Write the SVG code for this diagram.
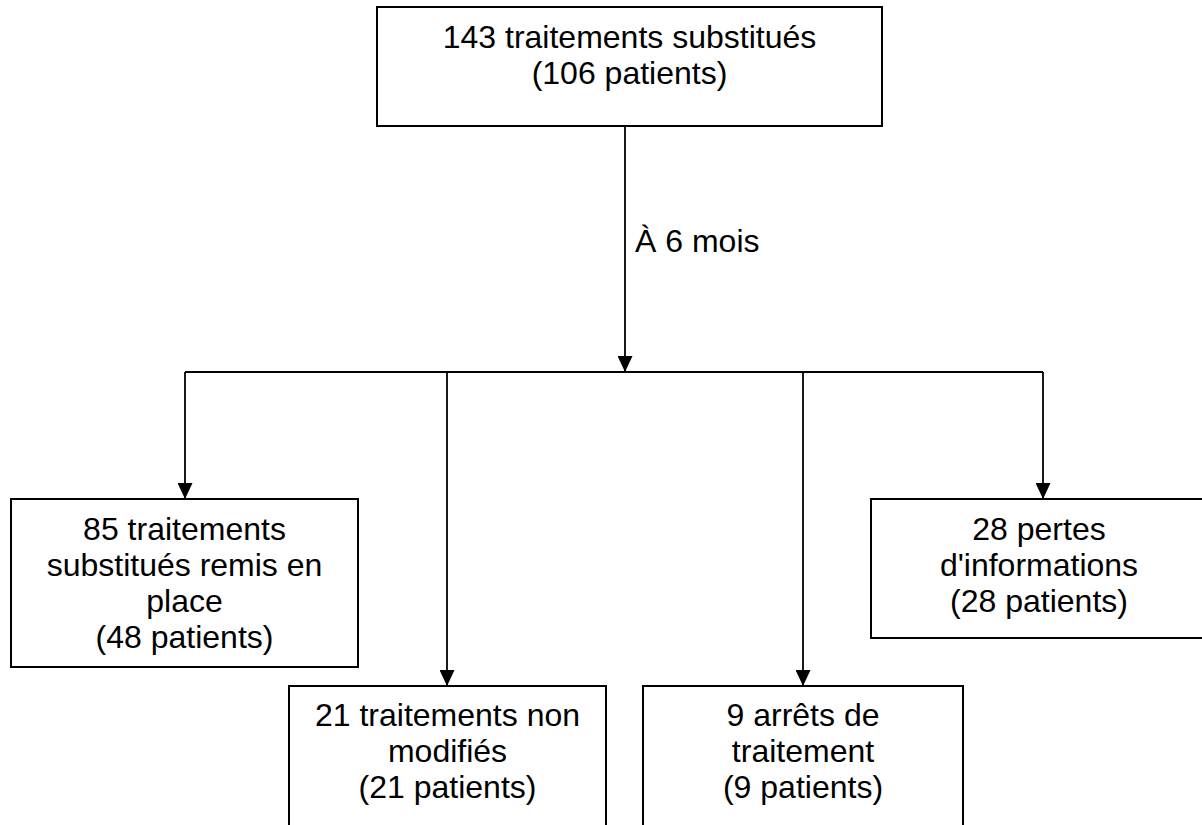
<svg xmlns="http://www.w3.org/2000/svg" width="1202" height="825" viewBox="0 0 1202 825">
<style>
.box{fill:#fff;stroke:#000;stroke-width:2}
.t{font-family:"Liberation Sans",Arial,sans-serif;font-size:32px;fill:#000;text-anchor:middle}
.c{fill:none;stroke:#000;stroke-width:1.8}
</style>
<defs>
<marker id="ah" viewBox="0 0 16 15" markerWidth="16" markerHeight="15" refX="16" refY="7.5" orient="auto" markerUnits="userSpaceOnUse">
<path d="M0,0 L16,7.5 L0,15 z" fill="#000"/>
</marker>
</defs>
<rect width="1202" height="825" fill="#fff"/>
<g id="connectors">
<path class="c" d="M625,126 V372" marker-end="url(#ah)"/>
<path class="c" d="M185,372 H1043"/>
<path class="c" d="M185,372 V499" marker-end="url(#ah)"/>
<path class="c" d="M447,372 V686" marker-end="url(#ah)"/>
<path class="c" d="M803,372 V686" marker-end="url(#ah)"/>
<path class="c" d="M1043,372 V499" marker-end="url(#ah)"/>
<text class="t" x="635" y="252" style="text-anchor:start">À 6 mois</text>
</g>
<g id="n-top">
<rect class="box" x="377" y="7" width="505" height="119"/>
<text class="t" x="629.5" y="48">143 traitements substitués</text>
<text class="t" x="629.5" y="84">(106 patients)</text>
</g>
<g id="n-remis">
<rect class="box" x="11" y="499" width="347" height="168"/>
<text class="t" x="184.5" y="540">85 traitements</text>
<text class="t" x="184.5" y="576">substitués remis en</text>
<text class="t" x="184.5" y="612">place</text>
<text class="t" x="184.5" y="648">(48 patients)</text>
</g>
<g id="n-nonmod">
<rect class="box" x="289" y="686" width="317" height="160"/>
<text class="t" x="447.5" y="726">21 traitements non</text>
<text class="t" x="447.5" y="762">modifiés</text>
<text class="t" x="447.5" y="798">(21 patients)</text>
</g>
<g id="n-arrets">
<rect class="box" x="643" y="686" width="320" height="160"/>
<text class="t" x="803" y="726">9 arrêts de</text>
<text class="t" x="803" y="762">traitement</text>
<text class="t" x="803" y="798">(9 patients)</text>
</g>
<g id="n-pertes">
<rect class="box" x="871" y="499" width="336" height="139"/>
<text class="t" x="1039" y="540">28 pertes</text>
<text class="t" x="1039" y="576">d'informations</text>
<text class="t" x="1039" y="612">(28 patients)</text>
</g>
</svg>
